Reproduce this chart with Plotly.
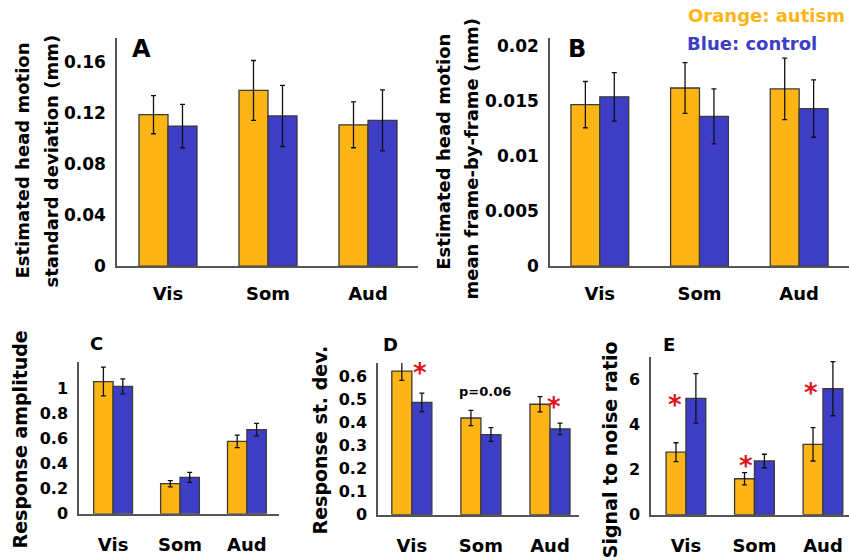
import plotly.graph_objects as go

# ---------------- data ----------------
categories = ["Vis", "Som", "Aud"]

a_autism = [0.119, 0.138, 0.111]
a_autism_err = [0.015, 0.0235, 0.018]
a_control = [0.110, 0.118, 0.1145]
a_control_err = [0.017, 0.024, 0.024]
a_ticks = [0, 0.04, 0.08, 0.12, 0.16]
a_ticktext = ["0", "0.04", "0.08", "0.12", "0.16"]

b_autism = [0.01467, 0.01618, 0.0161]
b_autism_err = [0.0021, 0.0023, 0.0028]
b_control = [0.01538, 0.0136, 0.01431]
b_control_err = [0.0022, 0.0025, 0.0026]
b_ticks = [0, 0.005, 0.01, 0.015, 0.02]
b_ticktext = ["0", "0.005", "0.01", "0.015", "0.02"]

c_autism = [1.055, 0.24, 0.578]
c_autism_err = [0.115, 0.025, 0.05]
c_control = [1.016, 0.29, 0.672]
c_control_err = [0.06, 0.04, 0.05]
c_ticks = [0, 0.2, 0.4, 0.6, 0.8, 1]
c_ticktext = ["0", "0.2", "0.4", "0.6", "0.8", "1"]

d_autism = [0.625, 0.421, 0.481]
d_autism_err = [0.04, 0.033, 0.033]
d_control = [0.489, 0.349, 0.374]
d_control_err = [0.04, 0.03, 0.025]
d_ticks = [0, 0.1, 0.2, 0.3, 0.4, 0.5, 0.6]
d_ticktext = ["0", "0.1", "0.2", "0.3", "0.4", "0.5", "0.6"]

e_autism = [2.78, 1.6, 3.13]
e_autism_err = [0.42, 0.27, 0.74]
e_control = [5.17, 2.39, 5.6]
e_control_err = [1.1, 0.3, 1.2]
e_ticks = [0, 2, 4, 6]
e_ticktext = ["0", "2", "4", "6"]

ORANGE = "#FDB515"
BLUE = "#3D3DC6"
FONT = "DejaVu Sans"
W, H = 849, 560


def px(x):
    return x / W


def py(y):
    return 1 - y / H


fig = go.Figure()

panels = [
    # suffix, autism, aerr, control, cerr, ticks, ticktext, xdom(px), ydom(px), xrange, yrange, tickfont, xfont, xstandoff
    ("", a_autism, a_autism_err, a_control, a_control_err, a_ticks, a_ticktext,
     (117, 418), (37, 270), [-0.51, 2.5], [0, 0.179], 17, 18, 10),
    ("2", b_autism, b_autism_err, b_control, b_control_err, b_ticks, b_ticktext,
     (550, 849), (37, 270), [-0.50, 2.5], [0, 0.0207], 17, 18, 10),
    ("3", c_autism, c_autism_err, c_control, c_control_err, c_ticks, c_ticktext,
     (79, 279), (368, 523), [-0.51, 2.48], [0, 1.21], 16, 18, 14),
    ("4", d_autism, d_autism_err, d_control, d_control_err, d_ticks, d_ticktext,
     (378, 579), (369, 524), [-0.49, 2.42], [0, 0.66], 16, 18, 14),
    ("5", e_autism, e_autism_err, e_control, e_control_err, e_ticks, e_ticktext,
     (651, 849), (363, 524), [-0.51, 2.38], [0, 7.0], 16, 18, 14),
]

layout_axes = {}
for (sfx, au, aue, co, coe, tv, tt, xd, yd, xr, yr, tfs, xfs, xso) in panels:
    xa = "x" + sfx
    ya = "y" + sfx
    for vals, errs, col in ((au, aue, ORANGE), (co, coe, BLUE)):
        fig.add_trace(go.Bar(
            x=categories, y=vals, xaxis=xa, yaxis=ya,
            marker=dict(color=col, line=dict(color="#3a3a3a", width=1.3)),
            error_y=dict(type="data", array=errs, color="#111", thickness=1.3, width=2.5),
            showlegend=False,
        ))
    layout_axes["xaxis" + sfx] = dict(
        domain=[px(xd[0]), px(xd[1])], anchor=ya, range=xr,
        showline=True, linecolor="#555", linewidth=1.5, showgrid=False,
        zeroline=False, ticks="", tickfont=dict(family=FONT, size=xfs, color="#000", weight="bold"),
        ticklabelstandoff=xso,
    )
    layout_axes["yaxis" + sfx] = dict(
        domain=[py(yd[1]), py(yd[0])], anchor=xa, range=yr,
        showline=True, linecolor="#555", linewidth=1.5, showgrid=False,
        zeroline=False, ticks="", tickvals=tv, ticktext=tt,
        tickfont=dict(family=FONT, size=tfs, color="#000", weight="bold"),
        ticklabelstandoff=6,
    )

anns = []


def text_ann(x, y, text, size, color="#000", angle=0, xanchor="center"):
    anns.append(dict(x=px(x), y=py(y), xref="paper", yref="paper", text=text,
                     showarrow=False, textangle=angle, xanchor=xanchor, yanchor="middle",
                     font=dict(family=FONT, size=size, color=color, weight="bold")))


# y axis titles
text_ann(23, 162, "Estimated head motion", 18, angle=-90)
text_ann(52, 163, "standard deviation (mm)", 18, angle=-90)
text_ann(444, 153, "Estimated head motion", 18, angle=-90)
text_ann(472, 160, "mean frame-by-frame (mm)", 18, angle=-90)
text_ann(20, 447, "Response amplitude", 19, angle=-90)
text_ann(320, 448, "Response st. dev.", 19, angle=-90)
text_ann(610, 458, "Signal to noise ratio", 19, angle=-90)

# panel letters
text_ann(141, 48, "A", 24)
text_ann(577, 48, "B", 24)
text_ann(96, 349, "C", 18)
text_ann(390, 350, "D", 18)
text_ann(669, 350, "E", 18)

# legend text
text_ann(766, 14, "Orange: autism", 18, color=ORANGE)
text_ann(752, 42, "Blue: control", 18, color=BLUE)

# significance marks
text_ann(485, 398, "p=0.06", 13)
for (x, y) in [(420, 379), (554, 414), (675, 412), (746, 474), (811, 400)]:
    text_ann(x, y, "*", 26, color="#E0141E")

fig.update_layout(
    width=W, height=H, margin=dict(l=0, r=0, t=0, b=0),
    paper_bgcolor="white", plot_bgcolor="white",
    barmode="group", bargap=0.42, bargroupgap=0,
    annotations=anns, **layout_axes,
)

fig.write_html("out.html")
